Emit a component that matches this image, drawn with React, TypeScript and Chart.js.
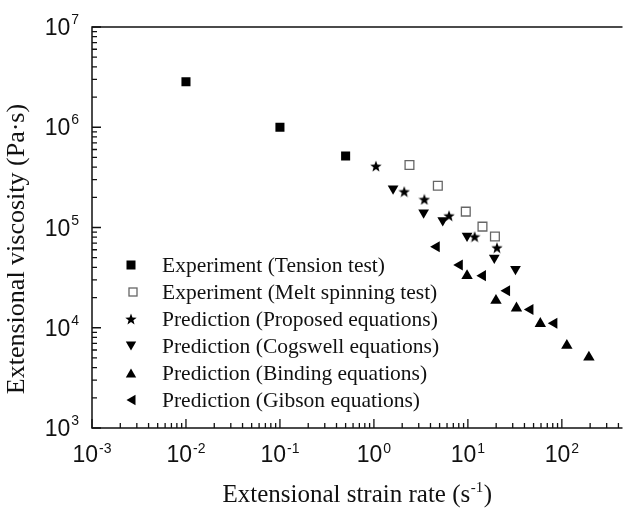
import React, { useEffect, useRef } from 'react';
import { Chart, registerables } from 'chart.js';

Chart.register(...registerables);

// ---- Data ----
const xTickExponents = [-3, -2, -1, 0, 1, 2];
const yTickExponents = [3, 4, 5, 6, 7];
const xMin = 0.001;
const xMax = 442;
const yMin = 1e3;
const yMax = 1e7;

const seriesLabels = [
  'Experiment (Tension test)',
  'Experiment (Melt spinning test)',
  'Prediction (Proposed equations)',
  'Prediction (Cogswell equations)',
  'Prediction (Binding equations)',
  'Prediction (Gibson equations)',
];

const tensionRate = [0.01, 0.1, 0.5];
const tensionVisc = [2.85e6, 1.0e6, 5.17e5];
const meltRate = [2.39, 4.79, 9.5, 14.3, 19.4];
const meltVisc = [4.2e5, 2.61e5, 1.44e5, 1.02e5, 8.13e4];
const proposedRate = [1.05, 2.1, 3.44, 6.3, 11.8, 20.4];
const proposedVisc = [4.1e5, 2.28e5, 1.91e5, 1.31e5, 8.1e4, 6.29e4];
const cogswellRate = [1.6, 3.38, 5.4, 9.8, 19.1, 32.1];
const cogswellVisc = [2.45e5, 1.41e5, 1.18e5, 8.27e4, 4.99e4, 3.84e4];
const bindingRate = [9.8, 19.9, 32.9, 59.0, 113, 194];
const bindingVisc = [3.3e4, 1.87e4, 1.57e4, 1.1e4, 6.65e3, 5.07e3];
const gibsonRate = [4.64, 8.17, 14.4, 26.0, 46.1, 82.8];
const gibsonVisc = [6.43e4, 4.22e4, 3.31e4, 2.34e4, 1.52e4, 1.11e4];

const xTitleMain = 'Extensional strain rate (s';
const xTitleSup = '-1';
const xTitleEnd = ')';
const yTitle = 'Extensional viscosity (Pa\u00B7s)';

const INK = '#111';
const SANS = '"Liberation Sans", Arial, sans-serif';
const SERIF = '"Liberation Serif", "Times New Roman", serif';

function pts(xs: number[], ys: number[]) {
  return xs.map((x, i) => ({ x, y: ys[i] }));
}

function makeStar(size: number, color: string) {
  const c = document.createElement('canvas');
  c.width = size;
  c.height = size;
  const ctx = c.getContext('2d')!;
  const R = size / 2;
  const r = R * 0.42;
  const h = R * (1 + Math.cos(Math.PI / 5));
  const cx = size / 2;
  const cy = R + (size - h) / 2;
  ctx.beginPath();
  for (let i = 0; i < 10; i++) {
    const ang = -Math.PI / 2 + (i * Math.PI) / 5;
    const rad = i % 2 === 0 ? R : r;
    ctx.lineTo(cx + rad * Math.cos(ang), cy + rad * Math.sin(ang));
  }
  ctx.closePath();
  ctx.fillStyle = color;
  ctx.fill();
  return c;
}

function triPath(ctx: CanvasRenderingContext2D, x: number, y: number, r: number, rotDeg: number) {
  let rad = (rotDeg * Math.PI) / 180;
  ctx.beginPath();
  for (let i = 0; i < 3; i++) {
    ctx.lineTo(x + Math.sin(rad) * r, y - Math.cos(rad) * r);
    rad += (2 * Math.PI) / 3;
  }
  ctx.closePath();
}

function drawPow(ctx: CanvasRenderingContext2D, exp: number, x: number, baseMain: number, baseSup: number, align: 'center' | 'right') {
  ctx.textAlign = 'left';
  ctx.textBaseline = 'alphabetic';
  ctx.font = `23px ${SANS}`;
  const w1 = ctx.measureText('10').width;
  ctx.font = `14px ${SANS}`;
  const s = String(exp);
  const w2 = ctx.measureText(s).width;
  const total = w1 + 1 + w2;
  const start = align === 'center' ? x - total / 2 : x - total;
  ctx.font = `23px ${SANS}`;
  ctx.fillText('10', start, baseMain);
  ctx.font = `14px ${SANS}`;
  ctx.fillText(s, start + w1 + 1, baseSup);
}

export default function App() {
  const ref = useRef<HTMLCanvasElement>(null);

  useEffect(() => {
    const star = makeStar(12, '#000');

    const decor = {
      id: 'decor',
      beforeDatasetsDraw(chart: any) {
        const { ctx, chartArea: a, scales } = chart;
        const sx = scales.x;
        const sy = scales.y;
        ctx.save();
        ctx.strokeStyle = INK;
        ctx.lineWidth = 1.5;
        ctx.beginPath();
        ctx.moveTo(a.right, a.top);
        ctx.lineTo(a.left, a.top);
        ctx.lineTo(a.left, a.bottom);
        ctx.lineTo(a.right, a.bottom);
        ctx.stroke();

        ctx.lineWidth = 1.3;
        ctx.beginPath();
        for (const e of xTickExponents) {
          const base = Math.pow(10, e);
          const px = sx.getPixelForValue(base);
          ctx.moveTo(px, a.bottom);
          ctx.lineTo(px, a.bottom - 9);
          for (let m = 2; m <= 9; m++) {
            const v = m * base;
            if (v > xMax) break;
            const p = sx.getPixelForValue(v);
            ctx.moveTo(p, a.bottom);
            ctx.lineTo(p, a.bottom - 5);
          }
        }
        for (const e of yTickExponents) {
          const base = Math.pow(10, e);
          const py = sy.getPixelForValue(base);
          ctx.moveTo(a.left, py);
          ctx.lineTo(a.left + 9, py);
          if (e === yTickExponents[yTickExponents.length - 1]) continue;
          for (let m = 2; m <= 9; m++) {
            const p = sy.getPixelForValue(m * base);
            ctx.moveTo(a.left, p);
            ctx.lineTo(a.left + 5, p);
          }
        }
        ctx.stroke();
        ctx.restore();
      },
      afterDraw(chart: any) {
        const { ctx, chartArea: a, scales } = chart;
        const sx = scales.x;
        const sy = scales.y;
        ctx.save();
        ctx.fillStyle = INK;

        // tick labels
        for (const e of xTickExponents) {
          const px = sx.getPixelForValue(Math.pow(10, e));
          drawPow(ctx, e, px, a.bottom + 34, a.bottom + 25, 'center');
        }
        for (const e of yTickExponents) {
          const py = sy.getPixelForValue(Math.pow(10, e));
          drawPow(ctx, e, a.left - 13, py + 8, py - 3, 'right');
        }

        // x title
        ctx.textBaseline = 'alphabetic';
        ctx.textAlign = 'left';
        ctx.font = `25px ${SERIF}`;
        const wMain = ctx.measureText(xTitleMain).width;
        const wEnd = ctx.measureText(xTitleEnd).width;
        ctx.font = `15px ${SERIF}`;
        const wSup = ctx.measureText(xTitleSup).width;
        const total = wMain + wSup + 1 + wEnd;
        const cx = (a.left + a.right) / 2;
        let tx = cx - total / 2;
        const tb = 502;
        ctx.font = `25px ${SERIF}`;
        ctx.fillText(xTitleMain, tx, tb);
        tx += wMain + 0.5;
        ctx.font = `15px ${SERIF}`;
        ctx.fillText(xTitleSup, tx, tb - 10);
        tx += wSup + 0.5;
        ctx.font = `25px ${SERIF}`;
        ctx.fillText(xTitleEnd, tx, tb);

        // y title
        ctx.save();
        ctx.translate(24, 249);
        ctx.rotate(-Math.PI / 2);
        ctx.textAlign = 'center';
        ctx.font = `26px ${SERIF}`;
        ctx.fillText(yTitle, 0, 0);
        ctx.restore();

        // legend
        const rowY0 = 265;
        const rowStep = 27;
        const mx = 131;
        chart.data.datasets.forEach((ds: any, i: number) => {
          const y = rowY0 + i * rowStep;
          ctx.fillStyle = '#000';
          ctx.strokeStyle = '#000';
          if (i === 0) {
            ctx.fillRect(mx - 4.5, y - 4.5, 9, 9);
          } else if (i === 1) {
            ctx.strokeStyle = '#666';
            ctx.lineWidth = 1.3;
            ctx.strokeRect(mx + 2 - 4, y - 4, 8, 8);
          } else if (i === 2) {
            ctx.drawImage(star, mx - 6, y - 6);
          } else if (i === 3) {
            triPath(ctx, mx, y - 1.5, 6, 180);
            ctx.fill();
          } else if (i === 4) {
            triPath(ctx, mx, y + 1.5, 6, 0);
            ctx.fill();
          } else {
            triPath(ctx, mx + 1.5, y, 6, -90);
            ctx.fill();
          }
          ctx.fillStyle = INK;
          ctx.font = `21.5px ${SERIF}`;
          ctx.textAlign = 'left';
          ctx.textBaseline = 'alphabetic';
          ctx.fillText(ds.label, 162, y + 7);
        });
        ctx.restore();
      },
    };

    const filled = { backgroundColor: '#000', borderColor: '#000', borderWidth: 0 };

    const chart = new Chart(ref.current!, {
      type: 'scatter',
      data: {
        datasets: [
          { label: seriesLabels[0], data: pts(tensionRate, tensionVisc), pointStyle: 'rect', pointRadius: 6.4, ...filled },
          {
            label: seriesLabels[1],
            data: pts(meltRate, meltVisc),
            pointStyle: 'rect',
            pointRadius: 6.2,
            backgroundColor: 'rgba(255,255,255,0)',
            borderColor: '#666',
            borderWidth: 1.3,
          },
          { label: seriesLabels[2], data: pts(proposedRate, proposedVisc), pointStyle: star as any, pointRadius: 6, ...filled },
          { label: seriesLabels[3], data: pts(cogswellRate, cogswellVisc), pointStyle: 'triangle', rotation: 180, pointRadius: 6.2, ...filled },
          { label: seriesLabels[4], data: pts(bindingRate, bindingVisc), pointStyle: 'triangle', pointRadius: 6.6, ...filled },
          { label: seriesLabels[5], data: pts(gibsonRate, gibsonVisc), pointStyle: 'triangle', rotation: -90, pointRadius: 6.4, ...filled },
        ] as any,
      },
      options: {
        responsive: false,
        animation: false,
        devicePixelRatio: 1,
        events: [],
        layout: { padding: { left: 92, top: 27, right: 0, bottom: 85 } },
        plugins: { legend: { display: false }, tooltip: { enabled: false }, title: { display: false } },
        scales: {
          x: { type: 'logarithmic', min: xMin, max: xMax, display: false },
          y: { type: 'logarithmic', min: yMin, max: yMax, display: false },
        },
      },
      plugins: [decor],
    });
    return () => chart.destroy();
  }, []);

  return (
    <div style={{ position: 'absolute', left: 0, top: 0, width: 630, height: 513, background: '#fff' }}>
      <canvas ref={ref} width={630} height={513} style={{ display: 'block', width: 630, height: 513 }} />
    </div>
  );
}
